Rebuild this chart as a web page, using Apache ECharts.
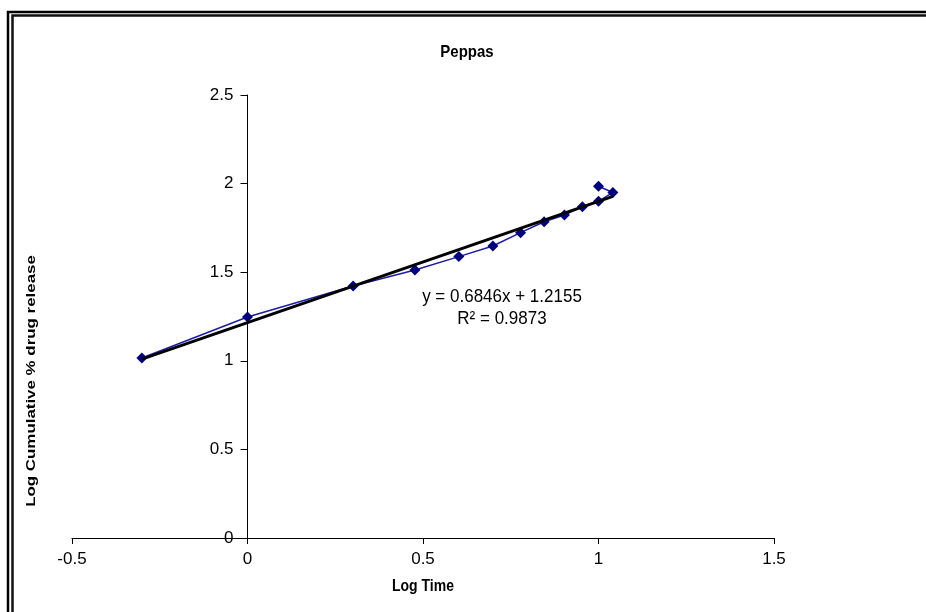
<!DOCTYPE html>
<html>
<head>
<meta charset="utf-8">
<script src="https://cdn.jsdelivr.net/npm/echarts@6/dist/echarts.min.js"></script>
<style>
  html, body { margin: 0; padding: 0; background: #fff; }
  #chart { width: 926px; height: 612px; }
</style>
</head>
<body>
<div id="chart"></div>
<script>
// Peppas model: log time vs log cumulative % drug release
const logTime    = [-0.301, 0, 0.301, 0.477, 0.602, 0.699, 0.778, 0.845, 0.903, 0.954, 1.0, 1.041, 1.0];
const logRelease = [1.016, 1.247, 1.422, 1.512, 1.588, 1.648, 1.723, 1.785, 1.823, 1.870, 1.900, 1.950, 1.985];

// Linear trendline as reported on the chart
const slope = 0.6846;
const intercept = 1.2155;
const rSquared = 0.9873;

const xTicks = { min: -0.5, max: 1.5, interval: 0.5 };
const yTicks = { min: 0, max: 2.5, interval: 0.5 };

const points = logTime.map((x, i) => [x, logRelease[i]]);
const xMin = Math.min(...logTime);
const xMax = Math.max(...logTime);
const trend = [xMin, xMax].map(x => [x, slope * x + intercept]);

const font = '"Liberation Sans", Arial, sans-serif';

const gridLeft = 72, gridRight = 152;
const plotWidth = 926 - gridLeft - gridRight;
// shift the value axis so it crosses the x axis at x = 0
const yAxisShift = plotWidth * (0 - xTicks.min) / (xTicks.max - xTicks.min);

const chart = echarts.init(document.getElementById('chart'), null, { renderer: 'canvas' });
chart.setOption({
  animation: false,
  backgroundColor: '#ffffff',
  grid: { left: gridLeft, right: gridRight, top: 95, bottom: 74 },
  xAxis: {
    type: 'value',
    min: xTicks.min, max: xTicks.max, interval: xTicks.interval,
    axisLine: { onZero: false, lineStyle: { color: '#000', width: 1 } },
    axisTick: { show: true, inside: false, length: 6, lineStyle: { color: '#000' } },
    axisLabel: { fontFamily: font, fontSize: 17, color: '#000', margin: 13 },
    splitLine: { show: false }
  },
  yAxis: {
    type: 'value',
    position: 'left',
    offset: -yAxisShift,
    min: yTicks.min, max: yTicks.max, interval: yTicks.interval,
    axisLine: { onZero: false, lineStyle: { color: '#000', width: 1 } },
    axisTick: { show: true, inside: false, length: 7, lineStyle: { color: '#000' } },
    axisLabel: { fontFamily: font, fontSize: 17, color: '#000', margin: 14 },
    splitLine: { show: false }
  },
  series: [
    {
      name: 'Log Cumulative % drug release',
      type: 'line',
      data: points,
      symbol: 'diamond',
      symbolSize: 11,
      showAllSymbol: true,
      itemStyle: { color: '#000080' },
      lineStyle: { color: '#1c1ca6', width: 1.5 },
      z: 2
    },
    {
      name: 'Linear',
      type: 'line',
      data: trend,
      symbol: 'none',
      lineStyle: { color: '#000', width: 3 },
      z: 3
    }
  ],
  graphic: [
    // double frame around the chart area
    { type: 'rect', shape: { x: 8, y: 12, width: 960, height: 640 },
      style: { fill: 'none', stroke: '#000', lineWidth: 2.5 }, z: 10 },
    { type: 'rect', shape: { x: 12.5, y: 15.5, width: 960, height: 640 },
      style: { fill: 'none', stroke: '#111', lineWidth: 2.5 }, z: 10 },
    // chart title
    { type: 'text', x: 467, y: 52, scaleY: 1.15,
      style: { text: 'Peppas', fontFamily: font, fontSize: 15, fontWeight: 'bold',
               fill: '#000', align: 'center', verticalAlign: 'middle' } },
    // x-axis title
    { type: 'text', x: 423, y: 586, scaleY: 1.2,
      style: { text: 'Log Time', fontFamily: font, fontSize: 14, fontWeight: 'bold',
               fill: '#000', align: 'center', verticalAlign: 'middle' } },
    // y-axis title
    { type: 'text', x: 31, y: 381, rotation: Math.PI / 2, scaleX: 1.3,
      style: { text: 'Log Cumulative % drug release', fontFamily: font, fontSize: 13,
               fontWeight: 'bold', fill: '#000', align: 'center', verticalAlign: 'middle' } },
    // trendline equation
    { type: 'text', x: 502, y: 297, scaleY: 1.12,
      style: { text: 'y = ' + slope + 'x + ' + intercept, fontFamily: font, fontSize: 17,
               fill: '#000', align: 'center', verticalAlign: 'middle' } },
    { type: 'text', x: 502, y: 319, scaleY: 1.12,
      style: { text: 'R² = ' + rSquared, fontFamily: font, fontSize: 17,
               fill: '#000', align: 'center', verticalAlign: 'middle' } }
  ]
});
</script>
</body>
</html>
